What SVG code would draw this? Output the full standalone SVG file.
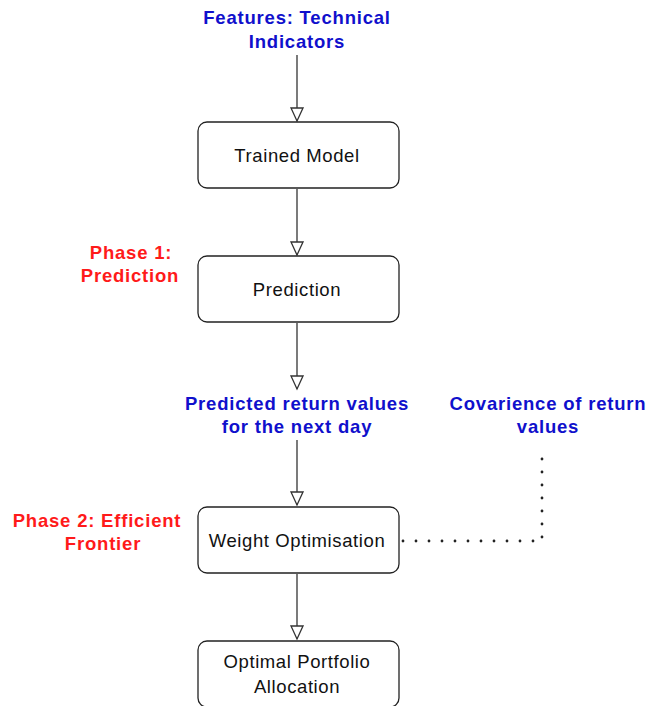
<svg xmlns="http://www.w3.org/2000/svg" width="649" height="706" viewBox="0 0 649 706">
  <style>
    .box { fill: #ffffff; stroke: #222222; stroke-width: 1.3; }
    .btxt { font-family: "Liberation Sans", Arial, sans-serif; font-size: 18.5px; letter-spacing: 0.6px; fill: #111111; text-anchor: middle; }
    .lbl { font-family: "Liberation Sans", Arial, sans-serif; font-size: 18.5px; letter-spacing: 0.8px; font-weight: bold; text-anchor: middle; }
    .blue { fill: #1010cc; }
    .red { fill: #ff1a1a; }
    .edge { stroke: #333333; stroke-width: 1.3; fill: none; }
    .dots { stroke: #222222; stroke-width: 2.8; fill: none; stroke-linecap: round; stroke-dasharray: 0 13; }
  </style>
  <defs>
    <marker id="tri" markerWidth="16" markerHeight="16" refX="14" refY="7" orient="auto" markerUnits="userSpaceOnUse">
      <path d="M1,1 L14,7 L1,13 Z" fill="#ffffff" stroke="#333333" stroke-width="1.3"/>
    </marker>
  </defs>

  <g id="edges">
    <path class="edge" d="M297,55 V121" marker-end="url(#tri)"/>
    <path class="edge" d="M297,189 V255" marker-end="url(#tri)"/>
    <path class="edge" d="M297,323 V389" marker-end="url(#tri)"/>
    <path class="edge" d="M297,440 V505" marker-end="url(#tri)"/>
    <path class="edge" d="M297,574 V639" marker-end="url(#tri)"/>
    <path class="dots" d="M403,541 H542 V450"/>
  </g>

  <g id="features">
    <text class="lbl blue" x="297" y="24">Features: Technical</text>
    <text class="lbl blue" x="297" y="48">Indicators</text>
  </g>

  <g id="trained-model">
    <rect class="box" x="198" y="122" width="201" height="66" rx="9"/>
    <text class="btxt" x="297" y="162">Trained Model</text>
  </g>

  <g id="phase1">
    <text class="lbl red" x="131" y="259">Phase 1:</text>
    <text class="lbl red" x="130" y="282">Prediction</text>
  </g>

  <g id="prediction">
    <rect class="box" x="198" y="256" width="201" height="66" rx="9"/>
    <text class="btxt" x="297" y="296">Prediction</text>
  </g>

  <g id="predicted-returns">
    <text class="lbl blue" x="297" y="410">Predicted return values</text>
    <text class="lbl blue" x="297" y="433">for the next day</text>
  </g>

  <g id="covariance">
    <text class="lbl blue" x="548" y="410">Covarience of return</text>
    <text class="lbl blue" x="548" y="433">values</text>
  </g>

  <g id="phase2">
    <text class="lbl red" x="97" y="527">Phase 2: Efficient</text>
    <text class="lbl red" x="103" y="550">Frontier</text>
  </g>

  <g id="weight-optimisation">
    <rect class="box" x="198" y="507" width="201" height="66" rx="9"/>
    <text class="btxt" x="297" y="547">Weight Optimisation</text>
  </g>

  <g id="optimal-allocation">
    <rect class="box" x="198" y="641" width="201" height="66" rx="9"/>
    <text class="btxt" x="297" y="668">Optimal Portfolio</text>
    <text class="btxt" x="297" y="693">Allocation</text>
  </g>
</svg>
